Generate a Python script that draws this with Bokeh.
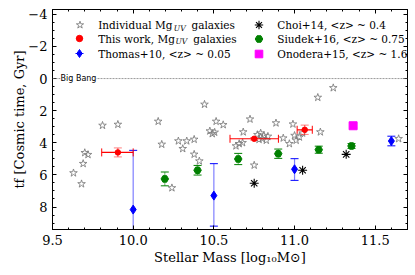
import numpy as np
from bokeh.plotting import figure
from bokeh.models import (Range1d, SingleIntervalTicker, LinearAxis, Span, Label,
                          Legend, LegendItem, PrintfTickFormatter, CustomJSTickFormatter)
from bokeh.embed import file_html
from bokeh.resources import INLINE

# ---------------- data ----------------
# Individual Mg_UV galaxies (stars)
ind_mass = [9.63, 9.68, 9.69, 9.70, 9.72, 9.81, 9.905, 10.155, 10.177, 10.24,
            10.28, 10.307, 10.332, 10.378, 10.378, 10.41, 10.442, 10.475, 10.49, 10.505,
            10.514, 10.558, 10.637, 10.657, 10.678, 10.682, 10.724, 10.75, 10.77, 10.79,
            10.80, 10.81, 10.825, 10.835, 10.78, 10.885, 10.93, 10.968, 10.99, 11.0,
            11.01, 11.03, 11.05, 11.144, 11.16, 11.24, 11.645]
ind_tf = [5.88, 6.56, 5.30, 4.62, 4.74, 2.92, 2.86, 2.67, 4.10, 6.81,
          3.89, 4.37, 3.89, 3.79, 4.72, 5.14, 1.61, 3.27, 3.44, 3.35,
          2.67, 2.88, 4.20, 4.06, 4.00, 3.33, 2.53, 5.40, 3.50, 3.40,
          3.75, 3.55, 3.85, 3.60, 3.80, 2.77, 3.71, 4.06, 2.84, 3.55,
          3.85, 3.65, 3.40, 1.18, 3.33, 0.58, 3.75]

# This work, Mg_UV galaxies (red)
tw_mass = [9.905, 10.75, 11.063]
tw_tf = [4.60, 3.75, 3.19]
tw_xerr_lo = [0.10, 0.15, 0.047]
tw_xerr_hi = [0.095, 0.15, 0.047]
tw_yerr = [0.28, 0.08, 0.29]

# Thomas+10 (blue)
th_mass = [10.0, 10.5, 11.0, 11.6]
th_tf = [8.16, 7.29, 5.65, 3.89]
th_err_up = [3.69, 1.99, 0.66, 0.30]
th_err_dn = [3.69, 1.90, 0.69, 0.30]

# Choi+14 (black)
ch_mass = [10.75, 11.05, 11.32]
ch_tf = [6.52, 5.71, 4.72]

# Siudek+16 (green)
si_mass = [10.196, 10.399, 10.651, 10.899, 11.15, 11.353]
si_tf = [6.25, 5.71, 5.01, 4.68, 4.43, 4.20]
si_err = [0.43, 0.30, 0.35, 0.29, 0.22, 0.15]

# Onodera+15 (magenta)
on_mass = [11.363]
on_tf = [2.94]
on_err = [0.15]

x_ticks_interval = 0.5
y_ticks_interval = 2

# ---------------- figure ----------------
SERIF = "DejaVu Serif"
FW, FH = 355, 220
p = figure(frame_width=FW, frame_height=FH,
           x_range=Range1d(9.5, 11.7), y_range=Range1d(9.4, -4.3),
           output_backend="svg", toolbar_location=None,
           min_border_left=52, min_border_top=9, min_border_right=8, min_border_bottom=0)
p.xgrid.visible = False
p.ygrid.visible = False
p.outline_line_color = "black"
p.background_fill_color = "white"
p.border_fill_color = "white"


def style_axis(ax):
    ax.major_tick_in = 4
    ax.major_tick_out = 0
    ax.minor_tick_in = 2
    ax.minor_tick_out = 0
    ax.axis_line_color = "black"
    ax.major_tick_line_color = "black"
    ax.minor_tick_line_color = "black"
    ax.major_label_text_font = SERIF
    ax.major_label_text_font_size = "13px"
    ax.major_label_text_color = "black"


p.xaxis.ticker = SingleIntervalTicker(interval=x_ticks_interval, num_minor_ticks=5)
p.xaxis.formatter = PrintfTickFormatter(format="%.1f")
style_axis(p.xaxis[0])
p.xaxis.major_label_standoff = 5
p.xaxis.axis_label = "Stellar Mass [log\u2081\u2080M\u2299]"
p.xaxis.axis_label_text_font = SERIF
p.xaxis.axis_label_text_font_size = "13px"
p.xaxis.axis_label_text_font_style = "normal"
p.xaxis.axis_label_text_color = "black"
p.xaxis.axis_label_standoff = 2

p.yaxis.ticker = SingleIntervalTicker(interval=y_ticks_interval, num_minor_ticks=4)
style_axis(p.yaxis[0])
p.yaxis.major_label_standoff = 5
p.yaxis.major_label_overrides = {-4: "\u22124", -2: "\u22122"}
p.yaxis.axis_label = "tf [Cosmic time, Gyr]"
p.yaxis.axis_label_text_font = SERIF
p.yaxis.axis_label_text_font_size = "13px"
p.yaxis.axis_label_text_font_style = "normal"
p.yaxis.axis_label_text_color = "black"
p.yaxis.axis_label_standoff = -2

top = LinearAxis(ticker=SingleIntervalTicker(interval=x_ticks_interval, num_minor_ticks=5),
                 formatter=CustomJSTickFormatter(code="return ''"), major_label_standoff=0)
style_axis(top)
top.major_label_text_font_size = "0px"
p.add_layout(top, "above")
right = LinearAxis(ticker=SingleIntervalTicker(interval=y_ticks_interval, num_minor_ticks=4),
                   formatter=CustomJSTickFormatter(code="return ''"), major_label_standoff=0)
style_axis(right)
right.major_label_text_font_size = "0px"
p.add_layout(right, "right")

# Big Bang line
p.add_layout(Span(location=0, dimension="width", line_color="gray",
                  line_width=0.8, line_dash="2 1"))
p.add_layout(Label(x=9.55, y=0, text="Big Bang", text_font="DejaVu Sans",
                   text_font_size="8px", text_baseline="middle",
                   background_fill_color="white", text_color="black"))

# ---------------- glyphs ----------------
star_r = p.scatter(ind_mass, ind_tf, marker="star", size=8, fill_color=None,
                   line_color="gray", line_width=0.9)

# Thomas (blue)
th_lo = [t - u for t, u in zip(th_tf, th_err_up)]
th_hi = [t + d for t, d in zip(th_tf, th_err_dn)]
th_seg = p.segment(th_mass, th_lo, th_mass, th_hi, line_color="blue", line_alpha=0.5, line_width=1.2)
th_cap = p.scatter(th_mass + th_mass, th_lo + th_hi, marker="dash", size=8,
                   line_color="blue", line_width=1)
th_r = p.scatter(th_mass, th_tf, marker="diamond", size=9, fill_color="blue", line_color="blue")

# Siudek (green)
si_lo = [t - e for t, e in zip(si_tf, si_err)]
si_hi = [t + e for t, e in zip(si_tf, si_err)]
si_seg = p.segment(si_mass, si_lo, si_mass, si_hi, line_color="green", line_alpha=0.5, line_width=1.2)
si_cap = p.scatter(si_mass + si_mass, si_lo + si_hi, marker="dash", size=8,
                   line_color="green", line_width=1)
si_r = p.scatter(si_mass, si_tf, marker="hex", size=7.5, fill_color="green", line_color="green")

# Onodera (magenta)
on_lo = [t - e for t, e in zip(on_tf, on_err)]
on_hi = [t + e for t, e in zip(on_tf, on_err)]
on_seg = p.segment(on_mass, on_lo, on_mass, on_hi, line_color="magenta", line_alpha=0.5, line_width=1.2)
on_cap = p.scatter(on_mass + on_mass, on_lo + on_hi, marker="dash", size=8,
                   line_color="magenta", line_alpha=0.5, line_width=1)
on_r = p.scatter(on_mass, on_tf, marker="square", size=8, fill_color="magenta", line_color="magenta")

# Choi (black)
ch_r = p.scatter(ch_mass, ch_tf, marker="asterisk", size=9, line_color="black", line_width=1.1)

# This work (red)
tw_ylo = [t - e for t, e in zip(tw_tf, tw_yerr)]
tw_yhi = [t + e for t, e in zip(tw_tf, tw_yerr)]
tw_xlo = [m - e for m, e in zip(tw_mass, tw_xerr_lo)]
tw_xhi = [m + e for m, e in zip(tw_mass, tw_xerr_hi)]
tw_xseg = p.segment(tw_xlo, tw_tf, tw_xhi, tw_tf, line_color="red", line_width=1.2)
tw_yseg = p.segment(tw_mass, tw_ylo, tw_mass, tw_yhi, line_color="red", line_alpha=0.5, line_width=1.2)
tw_ycap = p.scatter(tw_mass + tw_mass, tw_ylo + tw_yhi, marker="dash", size=8,
                    line_color="red", line_alpha=0.5, line_width=1)
tw_xcap = p.scatter(tw_xlo + tw_xhi, tw_tf + tw_tf, marker="dash", size=8, angle=np.pi / 2,
                    line_color="red", line_width=1)
tw_r = p.scatter(tw_mass, tw_tf, marker="circle", size=5.5, fill_color="red", line_color="red")

# ---------------- legend glyphs (one small legend per entry) ----------------
def leg(renderers, cx, cy, g):
    lg = Legend(items=[LegendItem(label="", renderers=renderers)],
                location=(cx - g / 2, FH - cy - g / 2), padding=0, margin=0, spacing=0,
                glyph_width=g, glyph_height=g, label_height=g, label_width=0,
                label_standoff=0, label_text_font_size="1px",
                border_line_alpha=0, background_fill_alpha=0)
    p.add_layout(lg)


col1, col2 = 27, 206.3
ry = [15.7, 29.2, 44.0]
leg([star_r], col1, ry[0], 19)
leg([tw_ycap, tw_xcap, tw_r], col1, ry[1], 16)
leg([th_cap, th_r], col1, ry[2], 20)
leg([ch_r], col2, ry[0], 21)
leg([si_cap, si_r], col2, ry[1], 19)
leg([on_cap, on_r], col2, ry[2], 19)

LFS = "10.5px"
SUBFS = "7.5px"
rows = [-3.32, -2.49, -1.56]
c1, c2 = 9.783, 10.893


def lab(x, y, t, fs=LFS, style="normal"):
    p.add_layout(Label(x=x, y=y, text=t, text_font=SERIF, text_font_size=fs,
                       text_font_style=style, text_baseline="middle", text_align="left",
                       text_color="black"))


lab(c1, rows[0], "Individual Mg")
lab(10.252, rows[0] + 0.2, "UV", SUBFS, "italic")
lab(10.361, rows[0], "galaxies")
lab(c1, rows[1], "This work, Mg")
lab(10.262, rows[1] + 0.2, "UV", SUBFS, "italic")
lab(10.372, rows[1], "galaxies")
lab(c1, rows[2], "Thomas+10, <z> ~ 0.05")
lab(c2, rows[0], "Choi+14, <z> ~ 0.4")
lab(c2, rows[1], "Siudek+16, <z> ~ 0.75")
lab(c2, rows[2], "Onodera+15, <z> ~ 1.6")

open("out.html", "w").write(file_html(p, INLINE))
